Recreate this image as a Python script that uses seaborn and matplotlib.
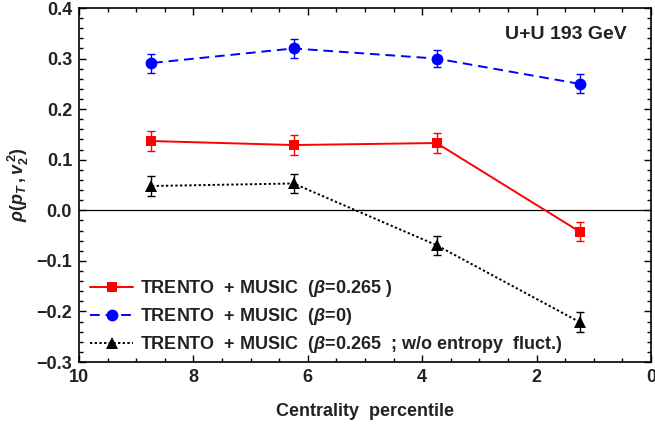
import matplotlib
matplotlib.use("Agg")
import matplotlib.pyplot as plt
import seaborn as sns
import pandas as pd
import numpy as np
from matplotlib.ticker import MultipleLocator, FuncFormatter

centrality = [8.75, 6.25, 3.75, 1.25]
rho_b0265 = [0.137, 0.129, 0.133, -0.042]
err_b0265 = [0.020, 0.019, 0.020, 0.019]
rho_b0 = [0.291, 0.320, 0.300, 0.250]
err_b0 = [0.019, 0.018, 0.017, 0.019]
rho_noent = [0.048, 0.053, -0.069, -0.221]
err_noent = [0.019, 0.019, 0.019, 0.019]

labels = [
    r"TRENTO  + MUSIC  ($\mathbfit{\beta}$=0.265 )",
    r"TRENTO  + MUSIC  ($\mathbfit{\beta}$=0)",
    r"TRENTO  + MUSIC  ($\mathbfit{\beta}$=0.265  ; w/o entropy  fluct.)",
]

sns.set_style("ticks")
plt.rcParams["font.family"] = ["Liberation Sans", "DejaVu Sans"]
plt.rcParams["font.weight"] = "bold"
plt.rcParams["mathtext.fontset"] = "custom"
plt.rcParams["mathtext.rm"] = "Liberation Sans:bold"
plt.rcParams["mathtext.it"] = "Liberation Sans:italic"
plt.rcParams["mathtext.bf"] = "Liberation Sans:bold"
plt.rcParams["mathtext.bfit"] = "Liberation Sans:bold:italic"

fig = plt.figure(figsize=(6.55, 4.25), dpi=100)
ax = fig.add_axes([79/655, 1-362/425, (651-79)/655, (362-8)/425])

series = [
    (rho_b0265, err_b0265, "#ff0000", "-", "s", 7, 1.4),
    (rho_b0, err_b0, "#0000ff", (0, (5, 3)), "o", 8.5, 1.4),
    (rho_noent, err_noent, "black", (0, (1.2, 1.2)), "^", 8, 1.4),
]

ax.axhline(0, color="black", lw=0.9, zorder=1)

for (vals, errs, col, ls, mk, ms, lw), lab in zip(series, labels):
    df = pd.DataFrame({"x": centrality, "y": vals})
    sns.lineplot(data=df, x="x", y="y", ax=ax, color=col, linestyle=ls,
                 marker=mk, markersize=ms, markeredgewidth=0, lw=lw,
                 label=lab, zorder=3)
    ax.errorbar(centrality, vals, yerr=errs, fmt="none", ecolor=col,
                elinewidth=1.0, capsize=2.8, capthick=1.0, zorder=2)

ax.set_xlim(10, 0)
ax.set_ylim(-0.3, 0.4)
ax.xaxis.set_major_locator(MultipleLocator(2))
ax.xaxis.set_minor_locator(MultipleLocator(0.5))
ax.yaxis.set_major_locator(MultipleLocator(0.1))
ax.yaxis.set_minor_locator(MultipleLocator(0.02))
ax.yaxis.set_major_formatter(FuncFormatter(lambda v, p: ("\u2212" if v < -1e-9 else "") + f"{abs(v):.1f}"))
ax.xaxis.set_major_formatter(FuncFormatter(lambda v, p: f"{v:.0f}"))
ax.tick_params(which="both", direction="in", top=True, right=True,
               colors="black", labelcolor="#222222", labelsize=13, width=1.0)
ax.tick_params(which="major", length=5, pad=5)
ax.tick_params(which="minor", length=3)
for lbl in ax.get_xticklabels() + ax.get_yticklabels():
    lbl.set_fontweight("bold")
for sp in ax.spines.values():
    sp.set_linewidth(1.2)
    sp.set_color("black")

ax.set_xlabel("Centrality  percentile", fontsize=13, fontweight="bold",
              color="#222222", labelpad=12)
ax.set_ylabel(r"$\rho(p_T\,,v_2^{\,2})$", fontsize=13, color="#222222", labelpad=4)

ax.text(0.957, 0.925, "U+U 193 GeV", transform=ax.transAxes, ha="right",
        va="center", fontsize=14, fontweight="bold", color="#222222")

leg = ax.legend(loc="lower left", bbox_to_anchor=(0.0, -0.012), frameon=False,
                fontsize=13, handlelength=2.4, handletextpad=0.4,
                labelspacing=0.4, borderaxespad=0.2, borderpad=0.4)
for t in leg.get_texts():
    t.set_fontweight("bold")
    t.set_color("#222222")

fig.savefig("out.png", dpi=100)
